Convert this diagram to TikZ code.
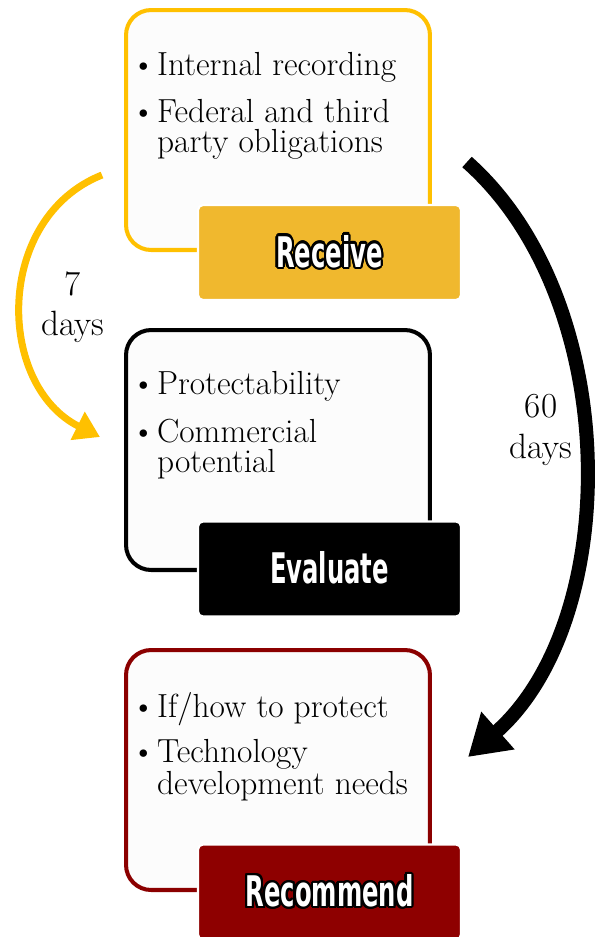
\documentclass[tikz,border=0pt]{standalone}
\usepackage{fontspec}
\usepackage{graphicx}
\usepackage{contour}
\usetikzlibrary{arrows.meta}
\newfontfamily\tagfont{DejaVu Sans Condensed}
\contourlength{1.3pt}
\definecolor{gold}{RGB}{255,192,0}
\definecolor{goldtag}{RGB}{240,184,46}
\definecolor{wine}{RGB}{139,0,0}
\definecolor{winetag}{RGB}{142,0,0}
\definecolor{paper}{RGB}{252,252,252}
\newcommand\itemfont{\fontsize{19}{17}\selectfont}
\newcommand\dayfont{\fontsize{20}{23}\selectfont}
\newcommand\tagtxt[1]{\textcolor{white}{\contour{black}{\scalebox{0.64}[1]{\tagfont\bfseries\fontsize{24}{24}\selectfont #1}}}}
\newcommand\bul{\textbullet\hspace{1pt}}
\newcommand\hang{\phantom{\bul}}
\begin{document}
\begin{tikzpicture}[x=0.02cm, y=-0.02cm,
  panel/.style={rounded corners=0.5cm, line width=2.3pt, fill=paper, minimum width=6.08cm, minimum height=4.8cm},
  tag/.style={rounded corners=0.1cm, draw=white, line width=1.2pt, minimum width=5.26cm, minimum height=1.9cm},
  item/.style={anchor=north west, align=left, inner sep=0pt, font=\itemfont},
  days/.style={align=center, font=\dayfont}]
\useasboundingbox (0,0) rectangle (606,937);

% boxes
\node[panel, draw=gold] (recvbox) at (278,130) {};
\node[panel, draw=black] (evalbox) at (278,450) {};
\node[panel, draw=wine] (recobox) at (278,770) {};

% bullets
\node[item] (r1) at (131,52) {\bul Internal recording};
\node[item] (r2) at (131,99) {\bul Federal and third\\\hang party obligations};
\node[item] (e1) at (131,371) {\bul Protectability};
\node[item] (e2) at (131,419) {\bul Commercial\\\hang potential};
\node[item] (c1) at (131,692) {\bul If/how to protect};
\node[item] (c2) at (131,739) {\bul Technology\\\hang development needs};

% time arrows
\coordinate (ys) at (102,175);
\coordinate (ye) at (100,437);
\draw[gold, line width=4pt, -{Triangle[length=0.5cm, width=0.6cm]}] (ys) .. controls (-6,218) and (-4,385) .. (ye);
\node[days] (d7) at (73,307) {7\\days};
\coordinate (bs) at (467,162);
\coordinate (be) at (468,757);
\draw[black, line width=8pt, -{Triangle[length=0.8cm, width=0.95cm]}] (bs) .. controls (623,300) and (623,620) .. (be);
\node[days] (d60) at (541,430) {60\\days};

% tags
\node[tag, fill=goldtag] (recv) at (329.5,252.5) {\tagtxt{Receive}};
\node[tag, fill=black] (eval) at (329.5,569) {\tagtxt{Evaluate}};
\node[tag, fill=winetag] (reco) at (329.5,892) {\tagtxt{Recommend}};
\end{tikzpicture}
\end{document}
